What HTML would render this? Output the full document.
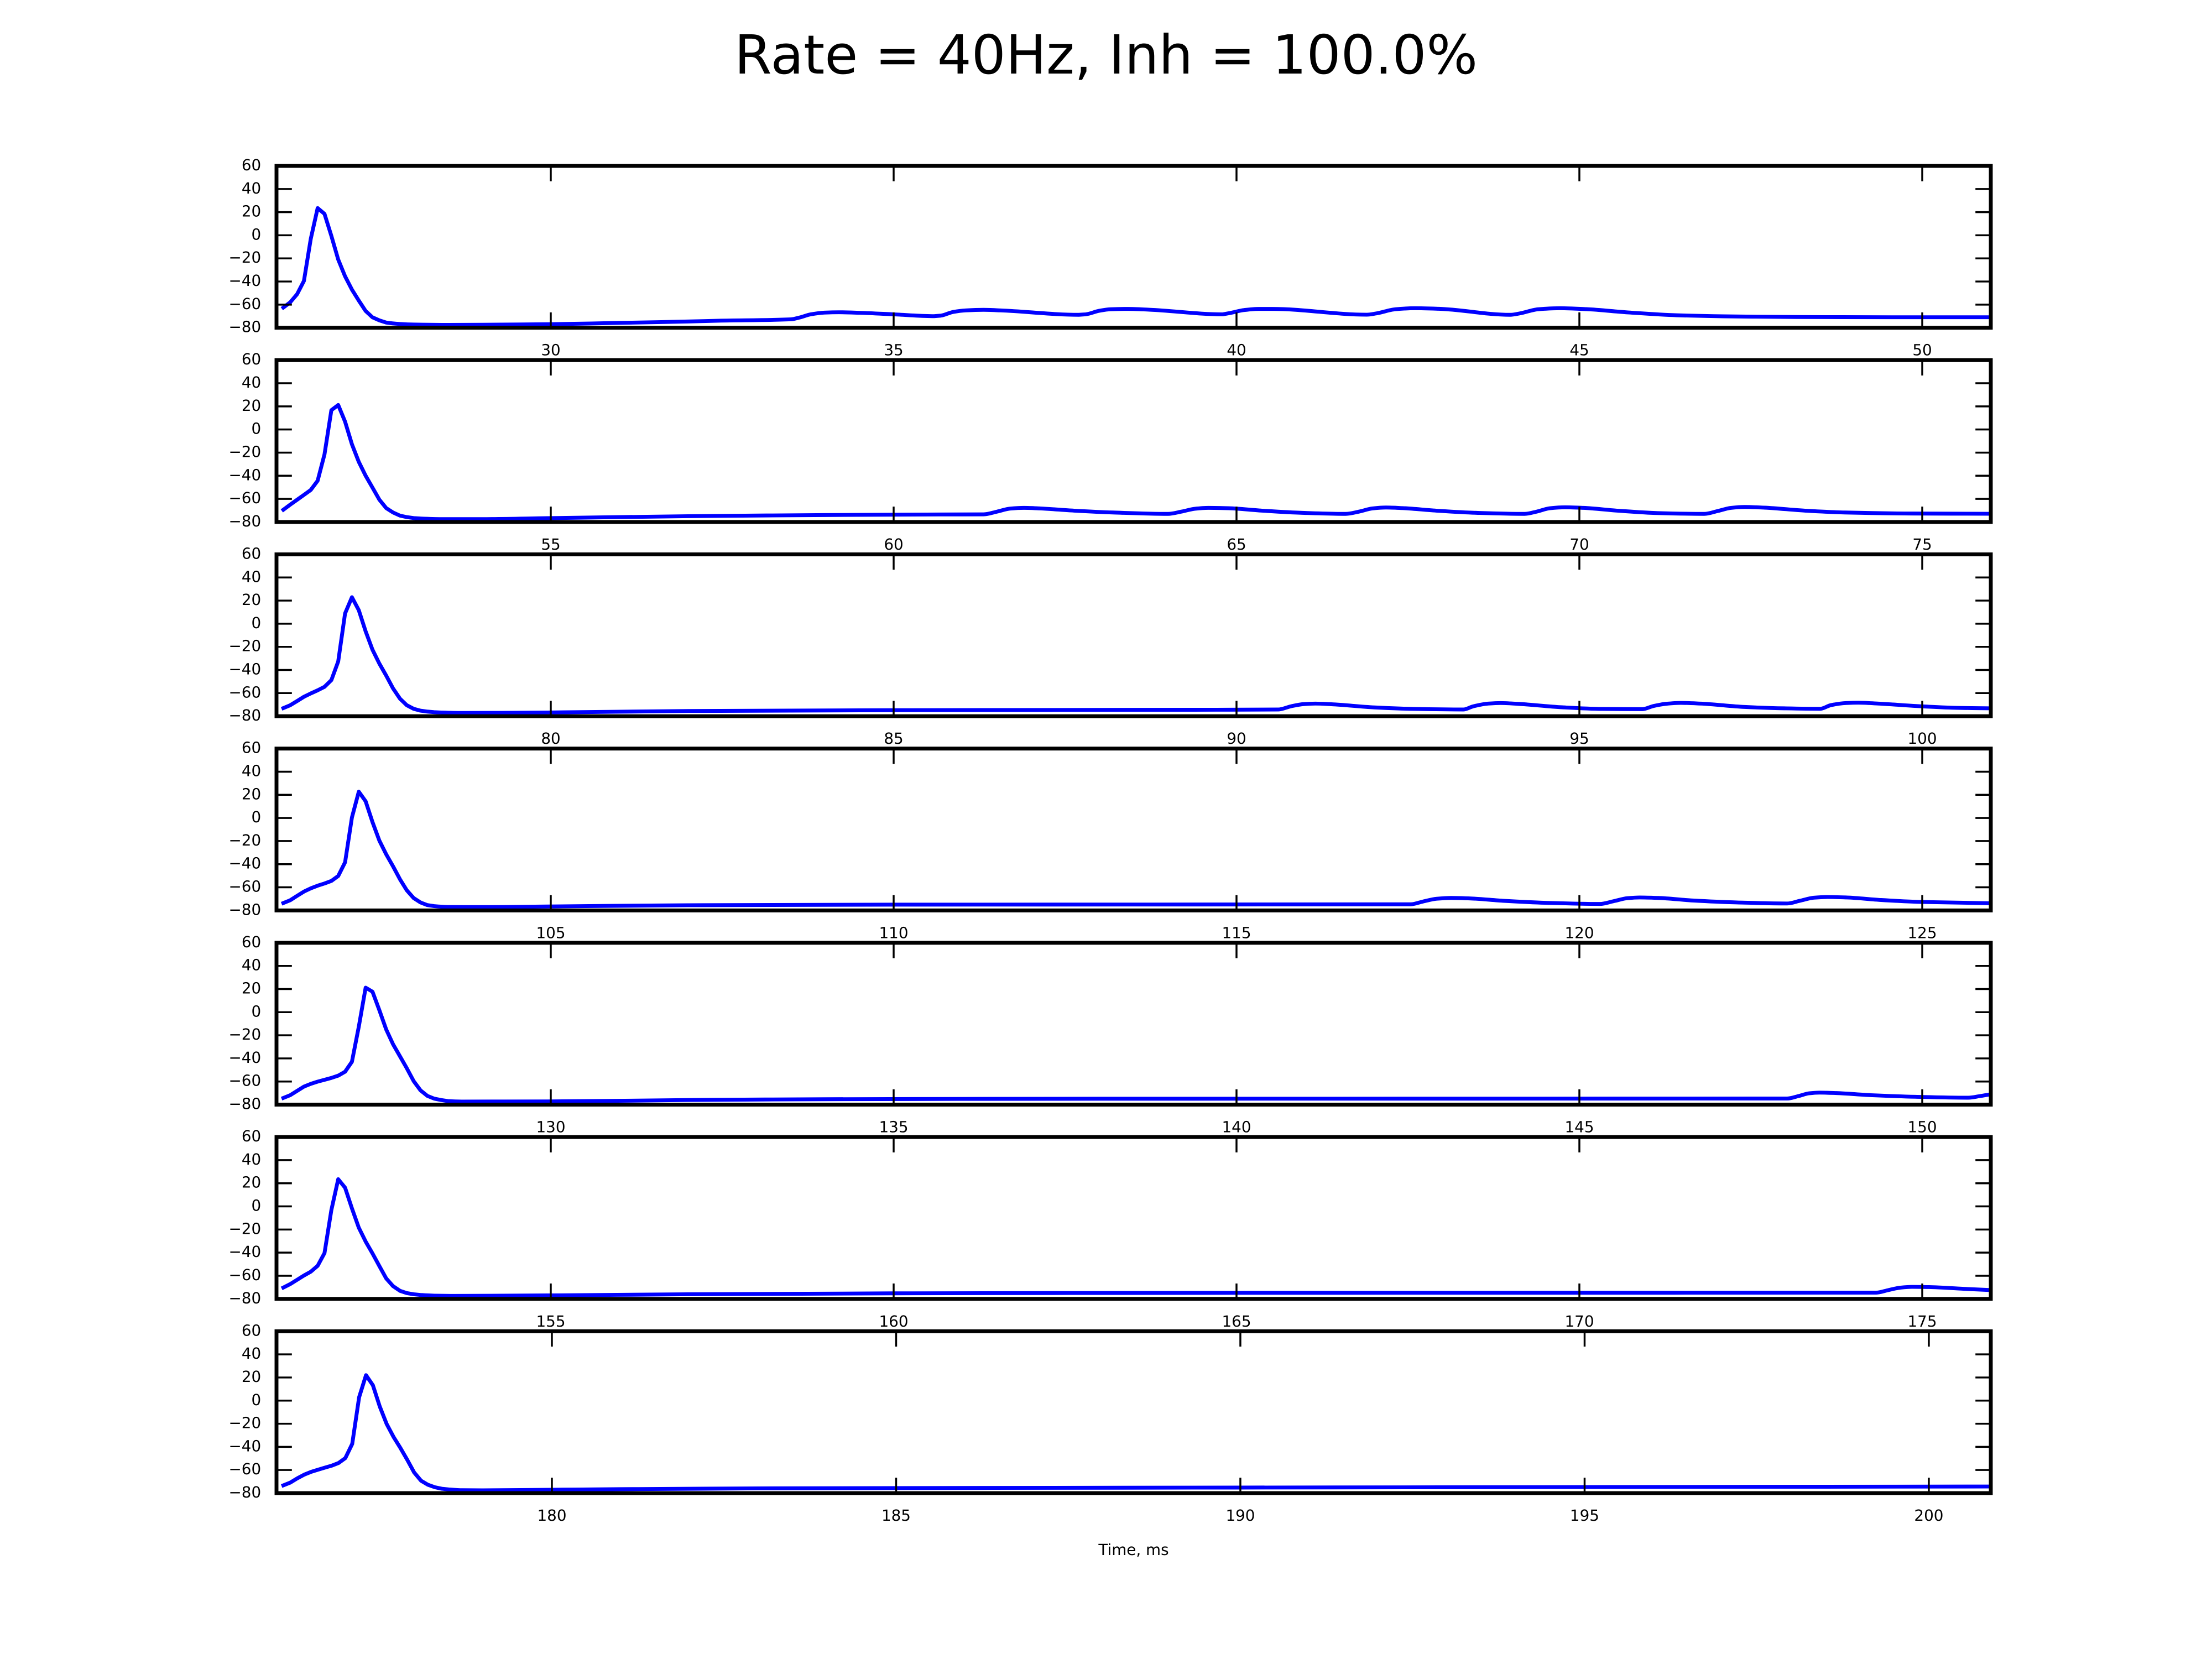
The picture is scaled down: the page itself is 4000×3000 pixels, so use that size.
<!DOCTYPE html>
<html lang="en">
<head>
<meta charset="utf-8">
<title>Rate = 40Hz, Inh = 100.0%</title>
<style>
html,body{margin:0;padding:0;background:#fff;width:4000px;height:3000px;overflow:hidden}
svg{display:block}
text{font-family:"DejaVu Sans","Liberation Sans",sans-serif;fill:#000;text-rendering:geometricPrecision}
</style>
</head>
<body>
<svg id="chart" xmlns="http://www.w3.org/2000/svg" width="4000" height="3000" viewBox="0 0 4000 3000">
  <rect x="0" y="0" width="4000" height="3000" fill="#fff"/>
  <text x="2000" y="133" font-size="97.4" text-anchor="middle">Rate = 40Hz, Inh = 100.0%</text>
  <text x="2050" y="2812" font-size="27.8" text-anchor="middle">Time, ms</text>
</svg>
<script>
const yTicks = [-80, -60, -40, -20, 0, 20, 40, 60];
const yTickLabels = ['\u221280', '\u221260', '\u221240', '\u221220', '0', '20', '40', '60'];
const xStarts = [26, 51, 76, 101, 126, 151, 176];
const xEnds = [51, 76, 101, 126, 151, 176, 200.9];
const xTicks1 = [30, 35, 40, 45, 50];
const xTicks2 = [55, 60, 65, 70, 75];
const xTicks3 = [80, 85, 90, 95, 100];
const xTicks4 = [105, 110, 115, 120, 125];
const xTicks5 = [130, 135, 140, 145, 150];
const xTicks6 = [155, 160, 165, 170, 175];
const xTicks7 = [180, 185, 190, 195, 200];

const times1 = [26.1,26.2,26.3,26.4,26.5,26.6,26.7,26.8,26.9,27,27.1,27.2,27.3,27.4,27.5,27.6,27.8,28,28.5,29,30,31,32,32.45,33.5,33.63,33.79,33.99,34.2,34.51,35,35.59,35.69,35.87,36.05,36.31,36.56,37.7,37.8,38,38.16,38.42,38.73,39.8,39.91,40.11,40.32,40.52,41.9,42.04,42.32,42.6,42.95,43.99,44.13,44.4,44.72,45.1,45.72,46.42,47.1,48.16,49.55,51];
const volts1 = [-62.5,-58,-51,-39.5,-3,23.5,18.5,-0.5,-21,-35.5,-47,-56.5,-65.5,-71,-73.6,-75.5,-76.7,-77.2,-77.5,-77.4,-76.9,-75.8,-74.6,-73.9,-72.7,-71.1,-68.4,-66.9,-66.6,-67.1,-68.4,-70,-69.5,-66.3,-65,-64.5,-65,-68.8,-68.4,-65.3,-64,-63.7,-64.4,-68.4,-67.2,-64.7,-63.7,-63.7,-68.7,-67.6,-64,-63.1,-63.6,-68.8,-67.6,-64,-63.1,-63.9,-66.8,-69.2,-70.1,-70.7,-70.9,-70.9];

const times2 = [51.1,51.2,51.3,51.4,51.5,51.6,51.7,51.8,51.9,52,52.1,52.2,52.3,52.4,52.5,52.6,52.7,52.8,52.9,53,53.1,53.4,54,54.95,57,59,60.68,61.31,61.51,61.7,61.9,62.14,62.63,63.2,64,64.2,64.39,64.59,64.88,65.37,65.96,66.59,66.79,66.98,67.18,67.42,67.91,68.5,69.2,69.38,69.57,69.79,70.06,70.55,71.14,71.82,72.02,72.21,72.41,72.7,73.29,73.87,74.85,76];
const volts2 = [-69.4,-65,-60.8,-56.6,-52.3,-44.3,-21.5,16.7,21.2,6.8,-12.8,-28,-40,-50.3,-60.7,-68,-71.8,-74.5,-75.8,-76.6,-77,-77.5,-77.5,-76.7,-75,-74,-73.5,-73.4,-71,-68.4,-67.8,-68.3,-70.2,-71.8,-73,-71,-68.6,-67.8,-68.1,-70.2,-72.1,-73,-71,-68.3,-67.5,-68,-70.2,-72.1,-73,-71,-68.1,-67.3,-67.8,-70.2,-72.3,-73,-70.5,-67.8,-67,-67.6,-70.2,-71.8,-72.7,-72.9];

const times3 = [76.1,76.2,76.3,76.4,76.5,76.6,76.7,76.8,76.9,77,77.1,77.2,77.3,77.4,77.5,77.6,77.7,77.8,77.9,78,78.1,78.2,78.3,78.4,78.7,79.95,82,85,89.71,90.61,90.79,90.97,91.15,91.37,92.01,92.59,93.31,93.45,93.67,93.85,94.1,94.75,95.33,95.92,96.08,96.26,96.48,96.77,97.41,97.99,98.51,98.67,98.89,99.07,99.36,100.01,100.51,101];
const volts3 = [-73,-70.5,-66.9,-63.2,-60.3,-57.6,-54.6,-48.8,-32.6,8.9,22.9,11.7,-6.6,-22.5,-34.5,-44.9,-56,-64.8,-70.5,-73.6,-75.2,-76,-76.5,-76.8,-77.2,-76.8,-75.5,-74.8,-74.4,-74.2,-71.5,-69.6,-69.1,-69.6,-72.4,-73.7,-74.2,-71.5,-69.1,-68.6,-69.3,-72.3,-73.7,-73.9,-71.2,-69.3,-68.5,-69.1,-72,-73.2,-73.6,-70.4,-68.6,-68.3,-69.1,-71.5,-72.8,-73.2];

const times4 = [101.1,101.2,101.3,101.4,101.5,101.6,101.7,101.8,101.9,102,102.1,102.2,102.3,102.4,102.5,102.6,102.7,102.8,102.9,103,103.1,103.2,103.3,103.5,104,104.95,107,110,117.54,117.72,117.92,118.13,118.4,118.9,119.5,120.3,120.5,120.7,120.88,121.15,121.65,122.3,123.03,123.22,123.42,123.62,123.9,124.4,125,126];
const volts4 = [-73.6,-71.2,-67.4,-63.7,-60.9,-58.6,-56.7,-54.5,-50.2,-38.4,0.4,22.7,14.4,-3.6,-19.6,-31.5,-41.9,-53,-62.6,-69.3,-73.1,-75.4,-76.3,-77,-77.1,-76.6,-75.5,-75,-74.7,-72.3,-69.9,-69.2,-69.6,-71.7,-73.4,-74.4,-72,-69.4,-68.8,-69.2,-71.4,-73.1,-74,-71.6,-69,-68.4,-68.8,-71,-72.7,-73.8];

const times5 = [126.1,126.2,126.3,126.4,126.5,126.6,126.7,126.8,126.9,127,127.1,127.2,127.3,127.4,127.5,127.6,127.7,127.8,127.9,128,128.1,128.2,128.3,128.4,128.5,128.7,129.95,132,134,138,148.03,148.2,148.35,148.5,148.75,149.25,149.9,150.67,150.85,151];
const volts5 = [-74.2,-71.8,-68.1,-64.4,-62,-60.1,-58.5,-56.9,-54.9,-51.5,-42.9,-12.6,21.2,17.7,1.7,-15,-27.8,-38.1,-48.5,-59.6,-67.6,-72.4,-74.8,-76,-76.9,-77.3,-77.2,-76,-75.3,-74.9,-74.7,-72.5,-70.2,-69.6,-70,-71.8,-73.2,-74,-72.5,-71];

const times6 = [151.1,151.2,151.3,151.4,151.5,151.6,151.7,151.8,151.9,152,152.1,152.2,152.3,152.4,152.5,152.6,152.7,152.8,152.9,153,153.1,153.3,153.6,154.95,157,160,165,174.33,174.5,174.68,174.85,175.1,175.6,176];
const volts6 = [-70.2,-67.2,-63.5,-59.8,-56.5,-51.4,-40.4,-3.2,23.5,16.2,-1.7,-18.4,-30.4,-40.7,-51.6,-62.3,-69,-73,-75,-76,-76.6,-77.2,-77.4,-77,-76,-75.2,-74.8,-74.6,-72.5,-70.3,-69.6,-69.8,-71.3,-72.4];

const times7 = [176.1,176.2,176.3,176.4,176.5,176.6,176.7,176.8,176.9,177,177.1,177.2,177.3,177.4,177.5,177.6,177.7,177.8,177.9,178,178.1,178.2,178.3,178.4,178.5,178.7,179,180,181,183,190,200.9];
const volts7 = [-73.3,-70.9,-67.3,-64.1,-61.7,-59.8,-58,-56.3,-54,-49.7,-37.4,2.9,22,13.3,-5.1,-20.2,-31.4,-41,-51.3,-62.2,-69.3,-72.8,-74.9,-76.2,-76.8,-77.5,-77.6,-77.1,-76.6,-75.9,-75.2,-74.3];

const allTimes = [times1, times2, times3, times4, times5, times6, times7];
const allVolts = [volts1, volts2, volts3, volts4, volts5, volts6, volts7];
const allXTicks = [xTicks1, xTicks2, xTicks3, xTicks4, xTicks5, xTicks6, xTicks7];

const SVGNS = 'http://www.w3.org/2000/svg';
const svg = document.getElementById('chart');
const AX_LEFT = 500, AX_RIGHT = 3600, AX_TOP = 300, AX_H = 292.68, AX_PITCH = 351.22;
const Y_MIN = -80, Y_MAX = 60;
const SPINE = 6.94, TICK_W = 3.47, TICK_L = 27.8, FONT = 27.8;

function panelTop(i) { return AX_TOP + AX_PITCH * i; }
function xScale(i, t) { return AX_LEFT + (t - xStarts[i]) / (xEnds[i] - xStarts[i]) * (AX_RIGHT - AX_LEFT); }
function yScale(i, v) { return panelTop(i) + (Y_MAX - v) / (Y_MAX - Y_MIN) * AX_H; }
function make(parent, tag, attrs) {
  const el = document.createElementNS(SVGNS, tag);
  for (const k in attrs) el.setAttribute(k, attrs[k]);
  parent.appendChild(el);
  return el;
}
/* Straight segments for the densely sampled spike; monotone curves across the sparser tail readings. */
function tracePath(i) {
  const xs = allTimes[i].map(t => xScale(i, t));
  const ys = allVolts[i].map(v => yScale(i, v));
  const n = xs.length, slope = [], tan = [];
  for (let k = 0; k < n - 1; k++) slope[k] = (ys[k + 1] - ys[k]) / (xs[k + 1] - xs[k]);
  tan[0] = slope[0];
  tan[n - 1] = slope[n - 2];
  for (let k = 1; k < n - 1; k++) {
    if (slope[k - 1] * slope[k] <= 0) { tan[k] = 0; continue; }
    const a = xs[k] - xs[k - 1], b = xs[k + 1] - xs[k];
    tan[k] = (a + b) * 3 / ((2 * b + a) / slope[k - 1] + (b + 2 * a) / slope[k]);
  }
  let d = 'M' + xs[0].toFixed(2) + ' ' + ys[0].toFixed(2);
  for (let k = 0; k < n - 1; k++) {
    const h = xs[k + 1] - xs[k];
    if (allTimes[i][k + 1] - allTimes[i][k] < 0.115) {
      d += 'L' + xs[k + 1].toFixed(2) + ' ' + ys[k + 1].toFixed(2);
    } else {
      d += 'C' + (xs[k] + h / 3).toFixed(2) + ' ' + (ys[k] + tan[k] * h / 3).toFixed(2) + ' ' +
        (xs[k + 1] - h / 3).toFixed(2) + ' ' + (ys[k + 1] - tan[k + 1] * h / 3).toFixed(2) + ' ' +
        xs[k + 1].toFixed(2) + ' ' + ys[k + 1].toFixed(2);
    }
  }
  return d;
}

const defs = make(svg, 'defs', {});
for (let i = 0; i < 7; i++) {
  const top = panelTop(i), bottom = top + AX_H;
  const clip = make(defs, 'clipPath', { id: 'clip' + i });
  make(clip, 'rect', { x: AX_LEFT, y: top, width: AX_RIGHT - AX_LEFT, height: AX_H });

  const g = make(svg, 'g', {});
  
  

  const line = make(g, 'path', { d: tracePath(i), fill: 'none', stroke: '#0000ff', 'stroke-width': SPINE, 'stroke-linejoin': 'round', 'stroke-linecap': 'square', 'clip-path': 'url(#clip' + i + ')' });
  
  

  yTicks.forEach((v, k) => {
    const y = yScale(i, v);
    const tl = make(g, 'line', { x1: AX_LEFT, x2: AX_LEFT + TICK_L, y1: y, y2: y, stroke: '#000', 'stroke-width': TICK_W });
    
    
    const tr = make(g, 'line', { x1: AX_RIGHT, x2: AX_RIGHT - TICK_L, y1: y, y2: y, stroke: '#000', 'stroke-width': TICK_W });
    
    
    const lb = make(g, 'text', { x: AX_LEFT - TICK_L, y: y + 8, 'font-size': FONT, 'text-anchor': 'end' });
    lb.textContent = yTickLabels[k];
    
    
  });

  allXTicks[i].forEach(t => {
    const x = xScale(i, t);
    const tb = make(g, 'line', { x1: x, x2: x, y1: bottom, y2: bottom - TICK_L, stroke: '#000', 'stroke-width': TICK_W });
    
    
    const tt = make(g, 'line', { x1: x, x2: x, y1: top, y2: top + TICK_L, stroke: '#000', 'stroke-width': TICK_W });
    
    
    const lb = make(g, 'text', { x: x, y: bottom + 50, 'font-size': FONT, 'text-anchor': 'middle' });
    lb.textContent = String(t);
    
    
  });

  const frame = make(g, 'rect', { x: AX_LEFT, y: top, width: AX_RIGHT - AX_LEFT, height: AX_H, fill: 'none', stroke: '#000', 'stroke-width': SPINE, 'stroke-linejoin': 'miter' });
  
  
}
</script>
</body>
</html>
